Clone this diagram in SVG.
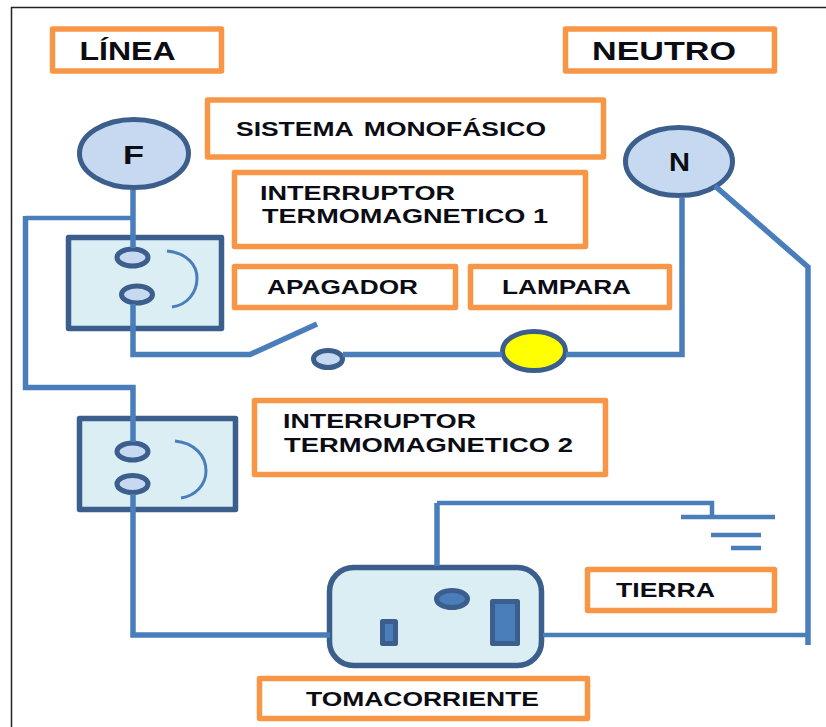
<svg xmlns="http://www.w3.org/2000/svg" width="826" height="727" viewBox="0 0 826 727">
<style>
.lb{fill:#fff;stroke:#F79646;stroke-width:5.500;stroke-linejoin:round}
.t{font-family:"Liberation Sans",Arial,sans-serif;font-weight:700;fill:#0c0c14}
.s{font-size:20px}
.b{font-size:25px}
.m{font-size:20px}
.w{fill:none;stroke:#4A7EBB;stroke-width:5.500;stroke-linejoin:miter}
.n{fill:none;stroke:#4A7EBB;stroke-width:4.500}
.box{fill:#DAEEF3;stroke:#3B5E8C;stroke-width:5.500;stroke-linejoin:round}
.term{fill:#C6D9F1;stroke:#3B5E8C;stroke-width:5}
.arc{fill:none;stroke:#4A7EBB;stroke-width:3}
.hole{fill:#4A7EBB;stroke:#3B5E8C;stroke-width:5;stroke-linejoin:round}
</style>
<rect width="826" height="727" fill="#fff"/>
<path id="frame" d="M11.500 727V7.500H826" fill="none" stroke="#222" stroke-width="1.500"/>

<g id="label-linea"><rect class="lb" x="52.500" y="29" width="169" height="42"/><text class="t b" x="79.500" y="60" textLength="96" lengthAdjust="spacingAndGlyphs">LÍNEA</text></g>
<g id="label-neutro"><rect class="lb" x="565.500" y="29" width="209" height="42"/><text class="t b" x="592" y="60" textLength="144" lengthAdjust="spacingAndGlyphs">NEUTRO</text></g>
<g id="label-sistema"><rect class="lb" x="207.500" y="100" width="396" height="57"/><text class="t s" x="236" y="136" textLength="310" lengthAdjust="spacingAndGlyphs" word-spacing="3">SISTEMA MONOFÁSICO</text></g>
<g id="label-int1"><rect class="lb" x="234.500" y="172.500" width="351" height="74"/><text class="t m" x="260" y="200" textLength="195" lengthAdjust="spacingAndGlyphs">INTERRUPTOR</text><text class="t m" x="262" y="223" textLength="286" lengthAdjust="spacingAndGlyphs">TERMOMAGNETICO 1</text></g>
<g id="label-apagador"><rect class="lb" x="234.500" y="266.500" width="221" height="41"/><text class="t s" x="267" y="294" textLength="151" lengthAdjust="spacingAndGlyphs">APAGADOR</text></g>
<g id="label-lampara"><rect class="lb" x="470.500" y="266.500" width="199" height="41"/><text class="t s" x="502" y="294" textLength="129" lengthAdjust="spacingAndGlyphs">LAMPARA</text></g>
<g id="label-int2"><rect class="lb" x="254.500" y="400.500" width="351" height="74"/><text class="t m" x="283" y="428" textLength="193" lengthAdjust="spacingAndGlyphs">INTERRUPTOR</text><text class="t m" x="284" y="452" textLength="289" lengthAdjust="spacingAndGlyphs">TERMOMAGNETICO 2</text></g>
<g id="label-tierra"><rect class="lb" x="587.500" y="569.500" width="187" height="41"/><text class="t s" x="616" y="597" textLength="99" lengthAdjust="spacingAndGlyphs">TIERRA</text></g>
<g id="label-tomacorriente"><rect class="lb" x="259.500" y="678.500" width="328" height="40"/><text class="t s" x="306" y="706" textLength="233" lengthAdjust="spacingAndGlyphs">TOMACORRIENTE</text></g>

<g id="node-f"><ellipse class="term" cx="134" cy="153.500" rx="54.500" ry="34"/><text class="t b" x="123" y="164" textLength="21" lengthAdjust="spacingAndGlyphs">F</text></g>
<g id="node-n"><ellipse class="term" cx="679" cy="161.500" rx="53.500" ry="34"/><text class="t b" x="669" y="171" textLength="21" lengthAdjust="spacingAndGlyphs">N</text></g>

<g id="breaker-1"><rect class="box" x="68.500" y="237.500" width="153" height="91"/><path class="arc" d="M167 251C187 253 197 265 197 278C197 293 187 305 172 307"/><ellipse class="term" cx="132.500" cy="257.500" rx="15.500" ry="8.500"/><ellipse class="term" cx="137" cy="294.500" rx="15.500" ry="8.500"/></g>
<g id="breaker-2"><rect class="box" x="79.500" y="418.500" width="156" height="91"/><path class="arc" d="M175 441C195 443 206 456 206 471C206 485 195 496 181 498"/><ellipse class="term" cx="132.500" cy="451.500" rx="15.500" ry="8.500"/><ellipse class="term" cx="132.500" cy="484" rx="15.500" ry="8.500"/></g>

<g id="switch-contact"><ellipse class="term" cx="328" cy="359" rx="14.500" ry="8.500"/></g>
<g id="lamp"><ellipse cx="534" cy="351" rx="31.500" ry="19.500" fill="#FFFF00" stroke="#3B5E8C" stroke-width="5"/></g>

<g id="socket"><rect class="box" x="329.500" y="567.500" width="212" height="98" rx="24" ry="24"/><rect class="hole" x="382.500" y="621.500" width="13" height="22"/><rect class="hole" x="492.500" y="601.500" width="25" height="42"/><ellipse class="hole" cx="452" cy="599" rx="15.500" ry="8.500"/></g>

<g id="connectors">
<path class="w" d="M133 190V248"/>
<path class="n" d="M133 218H25.500"/>
<path class="w" d="M25.500 216V387.500H133V442"/>
<path class="w" d="M133 304V354.500H250L317 324"/>
<path class="w" d="M343 354.500H502"/>
<path class="w" d="M566 354.500H682V197"/>
<path class="w" d="M715 186L808 267V645"/>
<path class="n" d="M543 635H808"/>
<path class="w" d="M133 494V635H330"/>
<path class="w" d="M437 566V503"/>
<path class="n" d="M437 503H712V517"/>
<path class="n" d="M681 517H775M711 535H761M731 548H761"/>
</g>
</svg>
